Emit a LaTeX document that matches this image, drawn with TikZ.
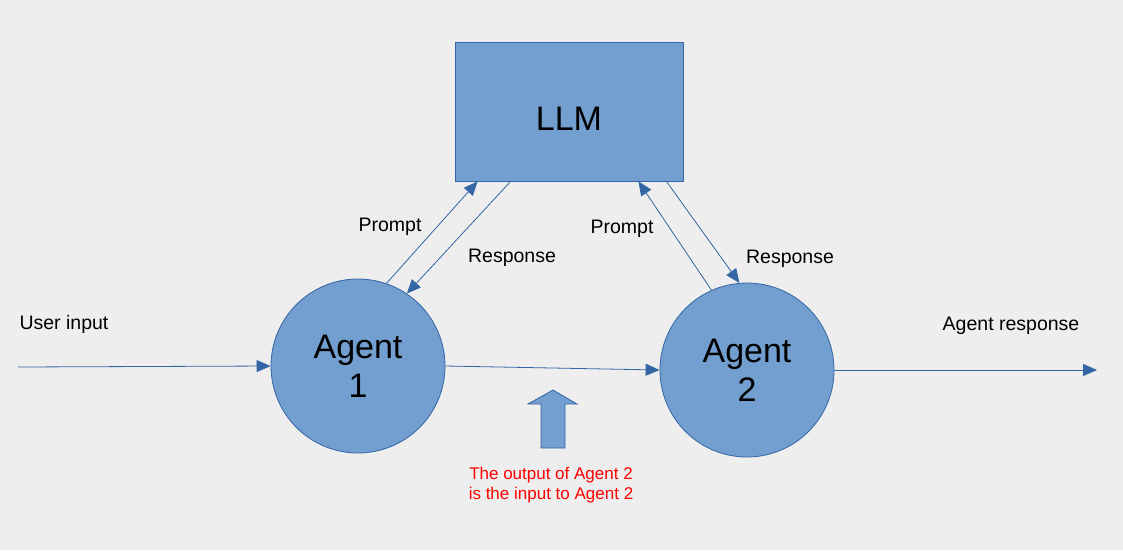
\documentclass[tikz,border=0pt]{standalone}
\usepackage{fontspec}
\setmainfont{Liberation Sans}
\usetikzlibrary{arrows.meta,calc}
\definecolor{bgcol}{HTML}{EEEEEE}
\definecolor{boxfill}{HTML}{729FCF}
\definecolor{boxline}{HTML}{3465A4}
\tikzset{
  agent/.style={circle, draw=boxline, fill=boxfill, line width=0.8pt, minimum size=174pt, inner sep=0pt, align=center, font=\fontsize{34}{39}\selectfont},
  llmbox/.style={rectangle, draw=boxline, fill=boxfill, line width=0.8pt, minimum width=228pt, minimum height=139pt, text height=37pt, font=\fontsize{34}{40}\selectfont},
  link/.style={draw=boxline, line width=0.8pt, -{Triangle[length=14pt,width=12pt]}},
  lbl/.style={font=\fontsize{19.5}{23}\selectfont, text=black},
  note/.style={font=\fontsize{17}{20}\selectfont, text=red, align=center}
}
\begin{document}
\begin{tikzpicture}[x=1pt, y=-1pt]
			%%%%% START %%%%%
			
			\fill[bgcol] (0, 0) rectangle (1123, 550);
			\useasboundingbox (0, 0) rectangle (1123, 550);
			
			\node[llmbox] (llm) at (569, 111.5) {LLM};
			\node[agent] (agent1) at (358, 366) {Agent\\1};
			\node[agent] (agent2) at (747, 370) {Agent\\2};
			
			\coordinate (userin) at (18, 367);
			\coordinate (agentout) at (1097, 370);
			
			% main flow
			\draw[link] (userin) -- (agent1.west);
			\draw[link] (agent1.east) -- (agent2.west);
			\draw[link] (agent2.east) -- (agentout);
			
			% agent 1 and the llm
			\draw[link] (agent1.71) -- ([xshift=23pt]llm.south west);
			\draw[link] ([xshift=56pt]llm.south west) -- (agent1.56);
			
			% agent 2 and the llm
			\draw[link] (agent2.114) -- ([xshift=-45pt]llm.south east);
			\draw[link] ([xshift=-17pt]llm.south east) -- (agent2.95);
			
			\node[lbl] (in) at (64, 324.5) {User input};
			\node[lbl] (out) at (1011, 325.5) {Agent response};
			\node[lbl] (p1) at (390, 226.5) {Prompt};
			\node[lbl] (r1) at (512, 257.5) {Response};
			\node[lbl] (p2) at (622, 228.5) {Prompt};
			\node[lbl] (r2) at (790, 258.5) {Response};
			
			% block arrow
			\draw[boxline, fill=boxfill, line width=0.8pt] (541, 448) -- (541, 404) -- (528, 404) -- (553, 390) -- (577, 404) -- (565, 404) -- (565, 448) -- cycle;
			\node[note] (remark) at (551, 485) {The output of Agent 2\\is the input to Agent 2};
			
			%%%%% END %%%%%
\end{tikzpicture}
\end{document}
